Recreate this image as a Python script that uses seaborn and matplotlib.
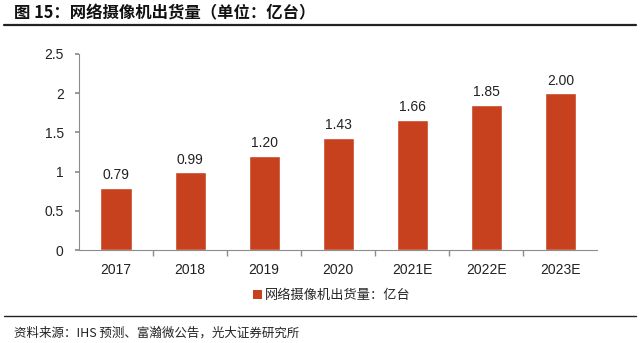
import matplotlib
matplotlib.use("Agg")
import matplotlib.pyplot as plt
import seaborn as sns
import pandas as pd
from matplotlib.lines import Line2D
from matplotlib.patches import Patch

years = ["2017", "2018", "2019", "2020", "2021E", "2022E", "2023E"]
shipments = [0.79, 0.99, 1.20, 1.43, 1.66, 1.85, 2.00]
yticks = [0, 0.5, 1, 1.5, 2, 2.5]
ytick_labels = ["0", "0.5", "1", "1.5", "2", "2.5"]
series_name = "网络摄像机出货量：亿台"
title = "图 15：网络摄像机出货量（单位：亿台）"
source = "资料来源：IHS 预测、富瀚微公告，光大证券研究所"

sns.set_theme(style="white")
plt.rcParams['font.family'] = ['Liberation Sans', 'Noto Sans CJK SC', 'DejaVu Sans']

df = pd.DataFrame({"year": years, "value": shipments})
bar_color = "#C8411F"
axis_color = "#8C8C8C"

fig = plt.figure(figsize=(6.4, 3.43), dpi=100)
ax = fig.add_axes([0.1234, 0.271, 0.810, 0.572])
sns.barplot(data=df, x="year", y="value", color=bar_color, width=0.42, ax=ax, saturation=1)

ax.set_ylim(0, 2.5)
ax.set_xlim(-0.5, len(years) - 0.5)
ax.set_yticks(yticks)
ax.set_yticklabels(ytick_labels)
ax.set_xlabel("")
ax.set_ylabel("")
for s in ["top", "right"]:
    ax.spines[s].set_visible(False)
for s in ["left", "bottom"]:
    ax.spines[s].set_color(axis_color)
    ax.spines[s].set_linewidth(0.8)
ax.tick_params(axis="y", which="both", left=True, length=3, color=axis_color, labelsize=10, pad=8, labelcolor="#222222")
ax.tick_params(axis="x", which="major", bottom=False, labelsize=10, pad=3, labelcolor="#222222")
ax.set_xticks([i + 0.5 for i in range(len(years) - 1)], minor=True)
ax.tick_params(axis="x", which="minor", bottom=True, length=4, color=axis_color)

for cont in ax.containers:
    ax.bar_label(cont, labels=[f"{v:.2f}" for v in shipments], padding=4, fontsize=10, color="#222222")

handle = Patch(facecolor=bar_color, edgecolor="none")
leg = fig.legend([handle], [series_name], loc="center", bbox_to_anchor=(0.518, 0.138),
                 frameon=False, handlelength=0.7, handleheight=0.7, handletextpad=0.2,
                 prop={"family": ["Noto Sans CJK SC", "DejaVu Sans"], "size": 9.5})

fig.text(0.022, 0.962, title, fontsize=11.8, fontweight="bold", va="center", ha="left",
         family=["Noto Sans CJK SC", "DejaVu Sans"], color="#111111")
fig.add_artist(Line2D([0.006, 0.994], [0.928, 0.928], color="#222222", linewidth=1.6))
fig.add_artist(Line2D([0.006, 0.994], [0.079, 0.079], color="#222222", linewidth=1.0))
fig.text(0.022, 0.03, source, fontsize=9, va="center", ha="left",
         family=["Noto Sans CJK SC", "DejaVu Sans"], color="#222222")

fig.savefig("out.png", dpi=100)
